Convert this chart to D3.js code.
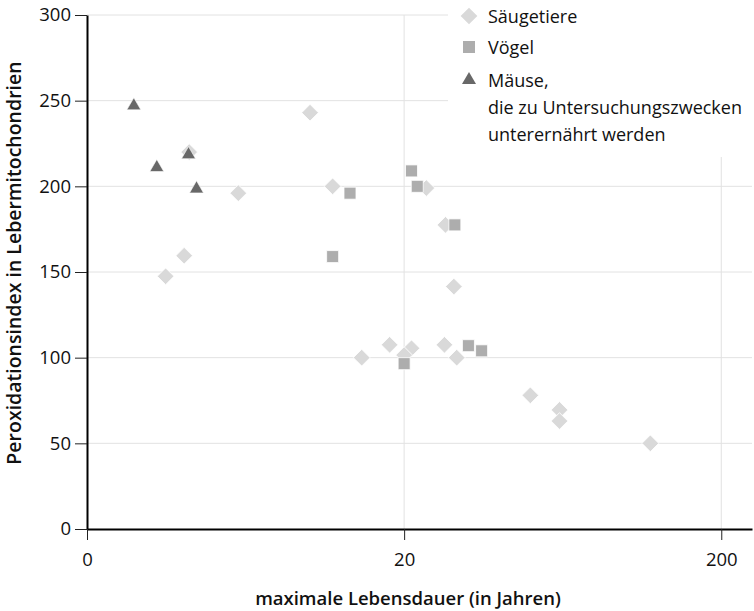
<!DOCTYPE html>
<html><head><meta charset="utf-8">
<script src="https://cdn.jsdelivr.net/npm/d3@7"></script>
<style>body{margin:0;background:#fff}svg{display:block}text{font-family:"Open Sans",sans-serif;fill:#111}</style>
</head><body><svg id="c" width="754" height="611"></svg>
<script>
// data (x: maximale Lebensdauer in Jahren, y: Peroxidationsindex)
const mammalsX = [10.1, 4.2, 6.0, 11.9, 4.05, 3.54, 23.5, 27.0, 28.7, 14.7, 18.0, 21.1, 20.0, 26.8, 29.3, 50.0, 61.8, 61.8, 119.5];
const mammalsY = [243, 220, 196, 200, 159.5, 147.5, 199, 177.5, 141.5, 100, 107.5, 105.5, 101.5, 107.5, 100, 78, 69.5, 63, 50];
const birdsX = [13.5, 11.9, 21.1, 22.0, 28.9, 31.9, 35.1, 20.0];
const birdsY = [196, 159, 209, 200, 177.5, 107, 104, 96.5];
const miceX = [2.81, 3.32, 4.18, 4.43];
const miceY = [247, 211, 218.5, 198.5];
const xTickValues = [2, 20, 200];
const xTickLabels = ["0", "20", "200"];
const yTickValues = [0, 50, 100, 150, 200, 250, 300];
const legendLabels = [["Säugetiere"], ["Vögel"], ["Mäuse,", "die zu Untersuchungszwecken", "unterernährt werden"]];

const svg = d3.select("#c");
const x = d3.scaleLog().domain([2, 250]).range([87, 752]);
const y = d3.scaleLinear().domain([0, 300]).range([529, 15]);

// grid
const grid = svg.append("g").attr("stroke", "#e2e2e2").attr("stroke-width", 1);
grid.selectAll("line.h").data(yTickValues.filter(d => d > 0)).join("line")
  .attr("x1", x(2)).attr("x2", 752).attr("y1", d => y(d)).attr("y2", d => y(d));
grid.selectAll("line.v").data(xTickValues.slice(1)).join("line")
  .attr("x1", d => x(d)).attr("x2", d => x(d)).attr("y1", y(300)).attr("y2", y(0));

// legend background covers grid
svg.append("rect").attr("x", 448).attr("y", 0).attr("width", 306).attr("height", 157).attr("fill", "#fff");

// axes
const yAxis = svg.append("g").attr("transform", `translate(${x(2)},0)`)
  .call(d3.axisLeft(y).tickValues(yTickValues).tickSize(12).tickPadding(4).tickSizeOuter(0));
yAxis.select(".domain").attr("stroke", "#000").attr("stroke-width", 2);
yAxis.selectAll(".tick line").attr("stroke", "#222");
yAxis.selectAll(".tick text").attr("font-size", 18.5).attr("font-family", "Open Sans").attr("fill", "#111");

const xAxis = svg.append("g").attr("transform", `translate(0,${y(0)})`)
  .call(d3.axisBottom(x).tickValues(xTickValues).tickFormat((d, i) => xTickLabels[i]).tickSize(11).tickPadding(13).tickSizeOuter(0));
xAxis.select(".domain").attr("stroke", "#000").attr("stroke-width", 2);
xAxis.selectAll(".tick line").attr("stroke", "#222");
xAxis.selectAll(".tick text").attr("font-size", 18.5).attr("font-family", "Open Sans").attr("fill", "#111");

// titles
svg.append("text").attr("x", 408).attr("y", 605).attr("text-anchor", "middle")
  .attr("font-size", 18.5).attr("font-weight", 600).text("maximale Lebensdauer (in Jahren)");
svg.append("text").attr("transform", "translate(21,263) rotate(-90)").attr("text-anchor", "middle")
  .attr("font-size", 19.5).attr("font-weight", 600).text("Peroxidationsindex in Lebermitochondrien");

// marks
const diamond = d3.symbol().type(d3.symbolSquare).size(140);
const square = d3.symbol().type(d3.symbolSquare).size(144);
const tri = d3.symbol().type(d3.symbolTriangle).size(85);

const cDia = "#d9d9d9", cSq = "#adadad", cTri = "#686868";

svg.append("g").selectAll("path").data(mammalsX.map((v, i) => [v, mammalsY[i]])).join("path")
  .attr("d", diamond).attr("transform", d => `translate(${x(d[0])},${y(d[1])}) rotate(45)`)
  .attr("fill", cDia).attr("stroke", "#fff").attr("stroke-width", 0.8);
svg.append("g").selectAll("path").data(birdsX.map((v, i) => [v, birdsY[i]])).join("path")
  .attr("d", square).attr("transform", d => `translate(${x(d[0])},${y(d[1])})`)
  .attr("fill", cSq).attr("stroke", "#fff").attr("stroke-width", 0.8);
svg.append("g").selectAll("path").data(miceX.map((v, i) => [v, miceY[i]])).join("path")
  .attr("d", tri).attr("transform", d => `translate(${x(d[0])},${y(d[1])})`)
  .attr("fill", cTri).attr("stroke", "#fff").attr("stroke-width", 0.6);

// legend
const lg = svg.append("g");
const lgSym = [[diamond, cDia, 45, 16], [square, cSq, 0, 47], [tri, cTri, 0, 80]];
lgSym.forEach((s, i) => {
  lg.append("path").attr("d", s[0]).attr("transform", `translate(469,${s[3]}) rotate(${s[2]})`).attr("fill", s[1]);
  legendLabels[i].forEach((t, j) => {
    lg.append("text").attr("x", 488).attr("y", s[3] + 6.5 + j * 27).attr("font-size", 18).text(t);
  });
});
</script></body></html>
